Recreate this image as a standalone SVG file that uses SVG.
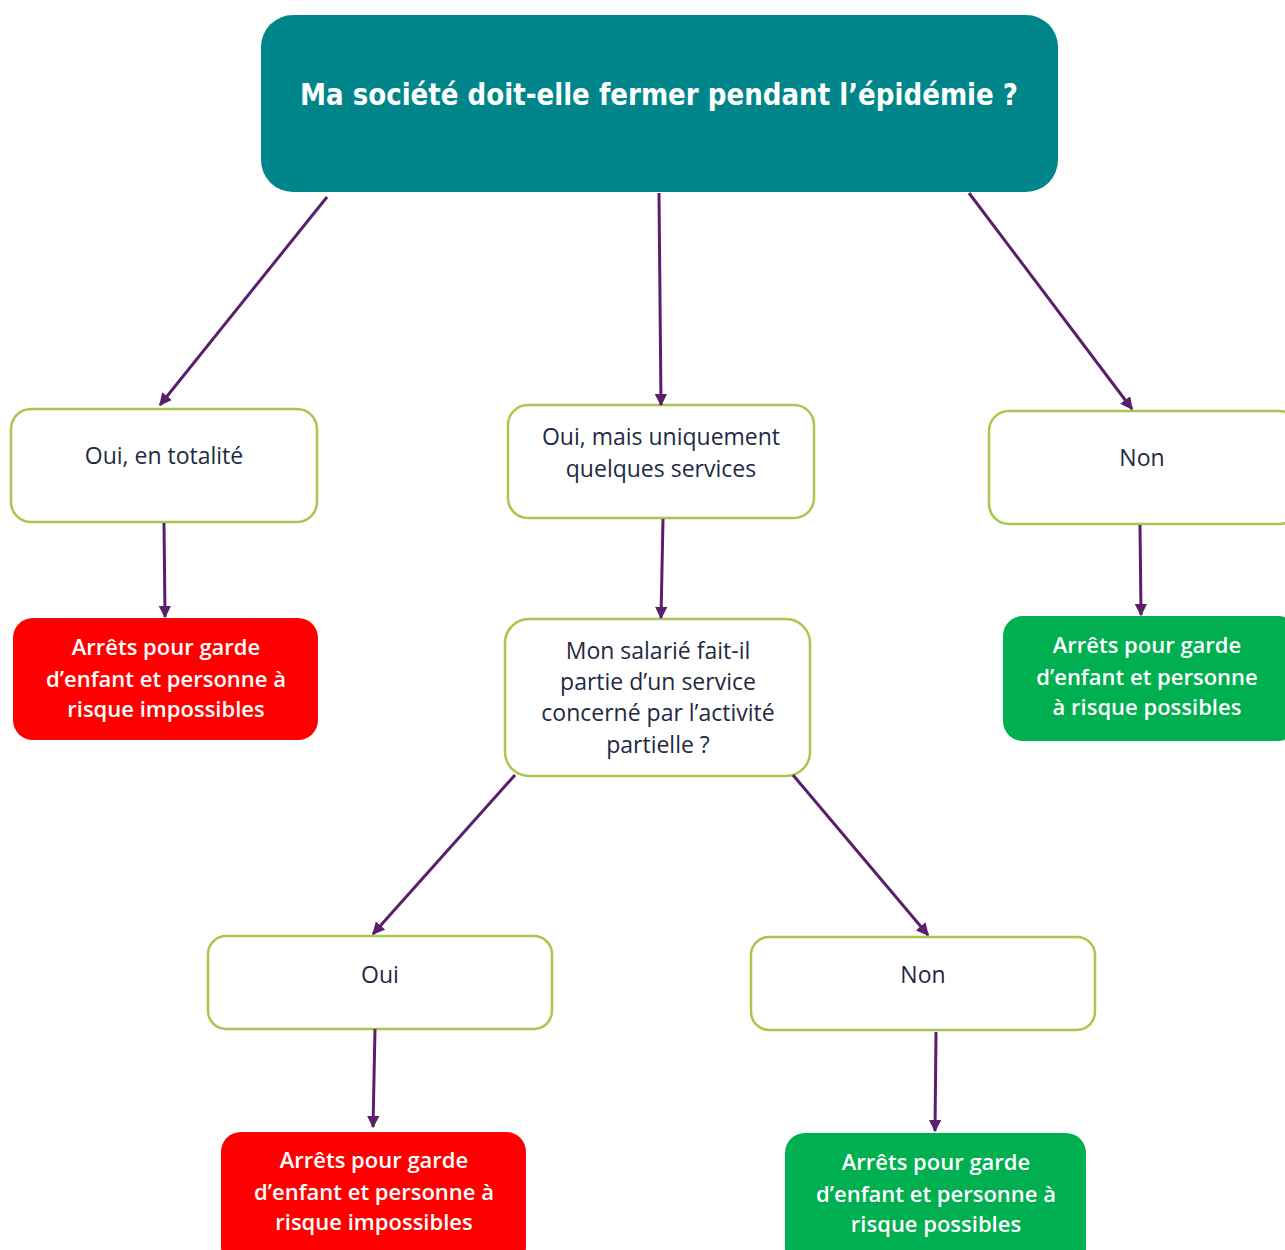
<svg xmlns="http://www.w3.org/2000/svg" width="1285" height="1250" viewBox="0 0 1285 1250">
<defs>
<marker id="ah" viewBox="0 0 10 10" refX="9" refY="5" markerWidth="4.2" markerHeight="4.2" orient="auto" markerUnits="strokeWidth">
<path d="M0,0 L10,5 L0,10 Z" fill="#5a1f6b"/>
</marker>
<style>
.q{fill:#fff;stroke:#a6c84c;stroke-width:2.5}
.red{fill:#ff0000}
.grn{fill:#00b050}
.t{font-family:"Open Sans",Lato,"Liberation Sans",sans-serif;font-size:23px;fill:#1f2a44;text-anchor:middle}
.w{font-family:"Open Sans",Lato,"Liberation Sans",sans-serif;font-size:22px;font-weight:600;fill:#fff;text-anchor:middle}
.c{stroke:#5a1f6b;stroke-width:3;fill:none;marker-end:url(#ah)}
</style>
</defs>
<rect width="1285" height="1250" fill="#fff"/>
<g id="root">
<rect x="261" y="15" width="797" height="177" rx="32" fill="#00868a"/>
<text x="659" y="105" font-family="'DejaVu Sans Condensed','DejaVu Sans',sans-serif" font-weight="bold" font-size="30" fill="#fff" text-anchor="middle" textLength="718" lengthAdjust="spacingAndGlyphs">Ma société doit-elle fermer pendant l’épidémie ?</text>
</g>
<g id="oui-totalite">
<rect class="q" x="11" y="409" width="306" height="113" rx="20"/>
<text class="t" x="164" y="464">Oui, en totalité</text>
</g>
<g id="oui-services">
<rect class="q" x="508" y="405" width="306" height="113" rx="20"/>
<text class="t" x="661" y="445">Oui, mais uniquement</text>
<text class="t" x="661" y="477">quelques services</text>
</g>
<g id="non-top">
<rect class="q" x="989" y="411" width="310" height="113" rx="20"/>
<text class="t" x="1142" y="466">Non</text>
</g>
<g id="red-1">
<rect class="red" x="13" y="618" width="305" height="122" rx="20"/>
<text class="w" x="166" y="655">Arrêts pour garde</text>
<text class="w" x="166" y="687">d’enfant et personne à</text>
<text class="w" x="166" y="717">risque impossibles</text>
</g>
<g id="question-salarie">
<rect class="q" x="505" y="619" width="305" height="157" rx="24"/>
<text class="t" x="658" y="659">Mon salarié fait-il</text>
<text class="t" x="658" y="690">partie d’un service</text>
<text class="t" x="658" y="721">concerné par l’activité</text>
<text class="t" x="658" y="753">partielle ?</text>
</g>
<g id="green-1">
<rect class="grn" x="1003" y="616" width="295" height="125" rx="20"/>
<text class="w" x="1147" y="653">Arrêts pour garde</text>
<text class="w" x="1147" y="685">d’enfant et personne</text>
<text class="w" x="1147" y="715">à risque possibles</text>
</g>
<g id="oui-bottom">
<rect class="q" x="208" y="936" width="344" height="93" rx="18"/>
<text class="t" x="380" y="983">Oui</text>
</g>
<g id="non-bottom">
<rect class="q" x="751" y="937" width="344" height="93" rx="18"/>
<text class="t" x="923" y="983">Non</text>
</g>
<g id="red-2">
<rect class="red" x="221" y="1132" width="305" height="135" rx="20"/>
<text class="w" x="374" y="1168">Arrêts pour garde</text>
<text class="w" x="374" y="1200">d’enfant et personne à</text>
<text class="w" x="374" y="1230">risque impossibles</text>
</g>
<g id="green-2">
<rect class="grn" x="785" y="1133" width="301" height="135" rx="20"/>
<text class="w" x="936" y="1170">Arrêts pour garde</text>
<text class="w" x="936" y="1202">d’enfant et personne à</text>
<text class="w" x="936" y="1232">risque possibles</text>
</g>
<g id="connectors">
<line class="c" x1="327" y1="197" x2="160" y2="405"/>
<line class="c" x1="659" y1="193" x2="661" y2="405"/>
<line class="c" x1="969" y1="193" x2="1132" y2="409"/>
<line class="c" x1="164" y1="523" x2="165" y2="617"/>
<line class="c" x1="663" y1="519" x2="661" y2="618"/>
<line class="c" x1="1140" y1="525" x2="1141" y2="615"/>
<line class="c" x1="515" y1="775" x2="373" y2="934"/>
<line class="c" x1="793" y1="775" x2="928" y2="935"/>
<line class="c" x1="375" y1="1029" x2="373" y2="1127"/>
<line class="c" x1="936" y1="1032" x2="935" y2="1131"/>
</g>
</svg>
